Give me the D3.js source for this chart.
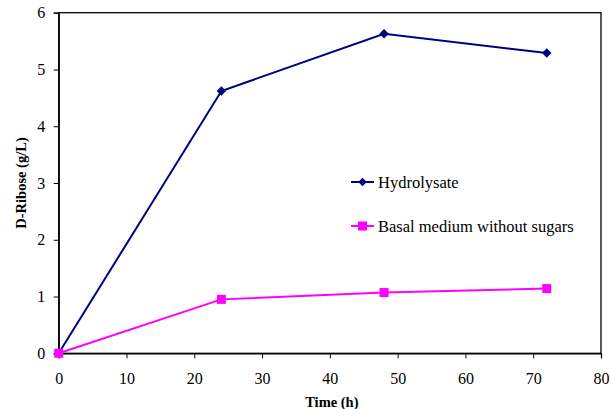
<!DOCTYPE html>
<html><head><meta charset="utf-8">
<script src="https://cdn.jsdelivr.net/npm/d3@7"></script>
<style>body{margin:0;background:#fff}svg{display:block}</style>
</head><body>
<svg id="c" width="611" height="409" font-family="Liberation Serif, Times New Roman, DejaVu Serif, serif"></svg>
<script>
const times = [0, 24, 48, 72];
const hydrolysate = [0, 4.62, 5.63, 5.29];
const basal = [0, 0.95, 1.07, 1.14];
const xTicks = [0, 10, 20, 30, 40, 50, 60, 70, 80];
const yTicks = [0, 1, 2, 3, 4, 5, 6];
const seriesNames = ["Hydrolysate", "Basal medium without sugars"];
const FONT = "'Liberation Serif', 'Times New Roman', 'DejaVu Serif', serif";

const svg = d3.select("#c");
const L = 58.7, R = 601, T = 12.7, B = 353.3;
const x = d3.scaleLinear().domain([0, 80]).range([L, R]);
const y = d3.scaleLinear().domain([0, 6]).range([B, T]);

svg.append("rect").attr("x", L).attr("y", T).attr("width", R - L).attr("height", B - T)
  .attr("fill", "none").attr("stroke", "#000").attr("stroke-width", 1.3);

const xa = svg.append("g").attr("transform", `translate(0,${B})`)
  .call(d3.axisBottom(x).tickValues(xTicks).tickSize(5).tickPadding(14).tickFormat(d3.format("d")));
const ya = svg.append("g").attr("transform", `translate(${L},0)`)
  .call(d3.axisLeft(y).tickValues(yTicks).tickSize(5).tickPadding(8.5).tickFormat(d3.format("d")));
[xa, ya].forEach(a => {
  a.attr("font-family", FONT).attr("font-size", 16);
  a.select(".domain").attr("stroke", "#000").attr("stroke-width", 1.3);
  a.selectAll(".tick line").attr("stroke", "#000").attr("stroke-width", 1);
  a.selectAll(".tick text").attr("font-size", 16).attr("fill", "#000").style("font-family", FONT);
});

svg.append("text").attr("x", (L + R) / 2 + 2).attr("y", 407).attr("text-anchor", "middle")
  .style("font-family", FONT).attr("font-size", 14.5).attr("font-weight", "bold").text("Time (h)");
svg.append("text").attr("transform", `translate(25.5,${(T + B) / 2}) rotate(-90)`)
  .style("font-family", FONT).attr("text-anchor", "middle").attr("font-size", 14.5).attr("font-weight", "bold").text("D-Ribose (g/L)");

const line = d3.line().x(d => x(d[0])).y(d => y(d[1]));
const s1 = times.map((t, i) => [t, hydrolysate[i]]);
const s2 = times.map((t, i) => [t, basal[i]]);

svg.append("path").datum(s1).attr("d", line).attr("fill", "none").attr("stroke", "#000080").attr("stroke-width", 2);
svg.append("path").datum(s2).attr("d", line).attr("fill", "none").attr("stroke", "#FF00FF").attr("stroke-width", 2);

svg.selectAll(".d").data(s1).enter().append("path")
  .attr("transform", d => `translate(${x(d[0])},${y(d[1])}) rotate(45)`)
  .attr("d", d3.symbol().type(d3.symbolSquare).size(45)).attr("fill", "#000080");
svg.selectAll(".s").data(s2).enter().append("rect")
  .attr("x", d => x(d[0]) - 4.5).attr("y", d => y(d[1]) - 4.5).attr("width", 9).attr("height", 9).attr("fill", "#FF00FF");

const lg = [{c: "#000080", t: seriesNames[0], y: 182, m: "d"}, {c: "#FF00FF", t: seriesNames[1], y: 226, m: "s"}];
lg.forEach(g => {
  svg.append("line").attr("x1", 351).attr("x2", 374).attr("y1", g.y).attr("y2", g.y).attr("stroke", g.c).attr("stroke-width", 2);
  if (g.m === "d") {
    svg.append("path").attr("transform", `translate(362.5,${g.y}) rotate(45)`)
      .attr("d", d3.symbol().type(d3.symbolSquare).size(36)).attr("fill", g.c);
  } else {
    svg.append("rect").attr("x", 358).attr("y", g.y - 4.5).attr("width", 9).attr("height", 9).attr("fill", g.c);
  }
  svg.append("text").attr("x", 378).attr("y", g.y + 5.5).style("font-family", FONT).attr("font-size", 16.5).attr("fill", "#000").text(g.t);
});
</script>
</body></html>
